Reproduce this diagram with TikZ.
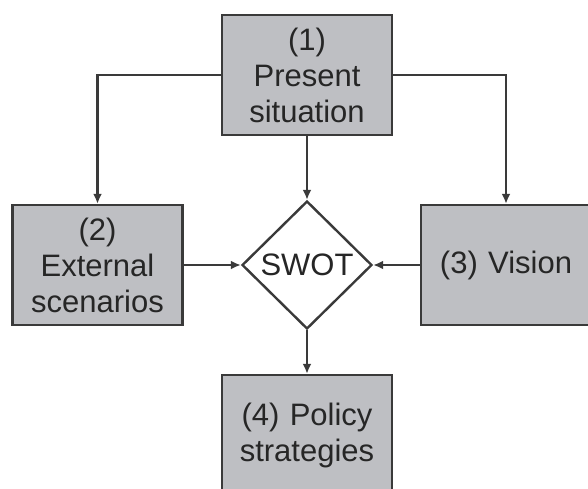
\documentclass[tikz,border=0pt]{standalone}
\usepackage{fontspec}
\setmainfont{Liberation Sans}
\usepackage{xcolor}
\usetikzlibrary{shapes.geometric,arrows.meta,positioning}
\definecolor{boxgray}{RGB}{190,191,195}
\definecolor{linegray}{RGB}{58,58,58}

\begin{document}
\begin{tikzpicture}[x=0.5pt, y=-0.5pt, node distance=95pt,
    stage/.style={rectangle, draw=linegray, fill=boxgray, line width=1.2pt, text width=82pt, align=center, minimum width=85pt, minimum height=60pt, inner sep=0pt, font=\fontsize{15.5}{18}\selectfont, text=black!85},
    decision/.style={diamond, draw=linegray, fill=white, line width=1.2pt, minimum width=65pt, minimum height=64pt, inner sep=0pt, font=\fontsize{15.5}{18}\selectfont, text=black!85},
    arrow/.style={-{Latex[length=5pt,width=4.5pt]}, line width=1.2pt, linegray}]

    \useasboundingbox (0,0) rectangle (588,488);

    \node [stage] (present) at (307,75) {(1)\\Present\\situation};
    \node [decision, below of=present] (swot) {SWOT};
    \node [stage, left of=swot, xshift=-9.75pt] (external) {(2)\\External\\scenarios};
    \node [stage, right of=swot, xshift=4.5pt] (vision) {(3) Vision};
    \node [stage, below of=swot, yshift=10pt] (policy) {(4) Policy\\strategies};

    % Arrows
    \draw [arrow] (present.west) -| (external.north);
    \draw [arrow] (present.east) -| (vision.north);
    \draw [arrow] (present) -- (swot);
    \draw [arrow] (external) -- (swot);
    \draw [arrow] (vision) -- (swot);
    \draw [arrow] (swot) -- (policy);
\end{tikzpicture}
\end{document}
